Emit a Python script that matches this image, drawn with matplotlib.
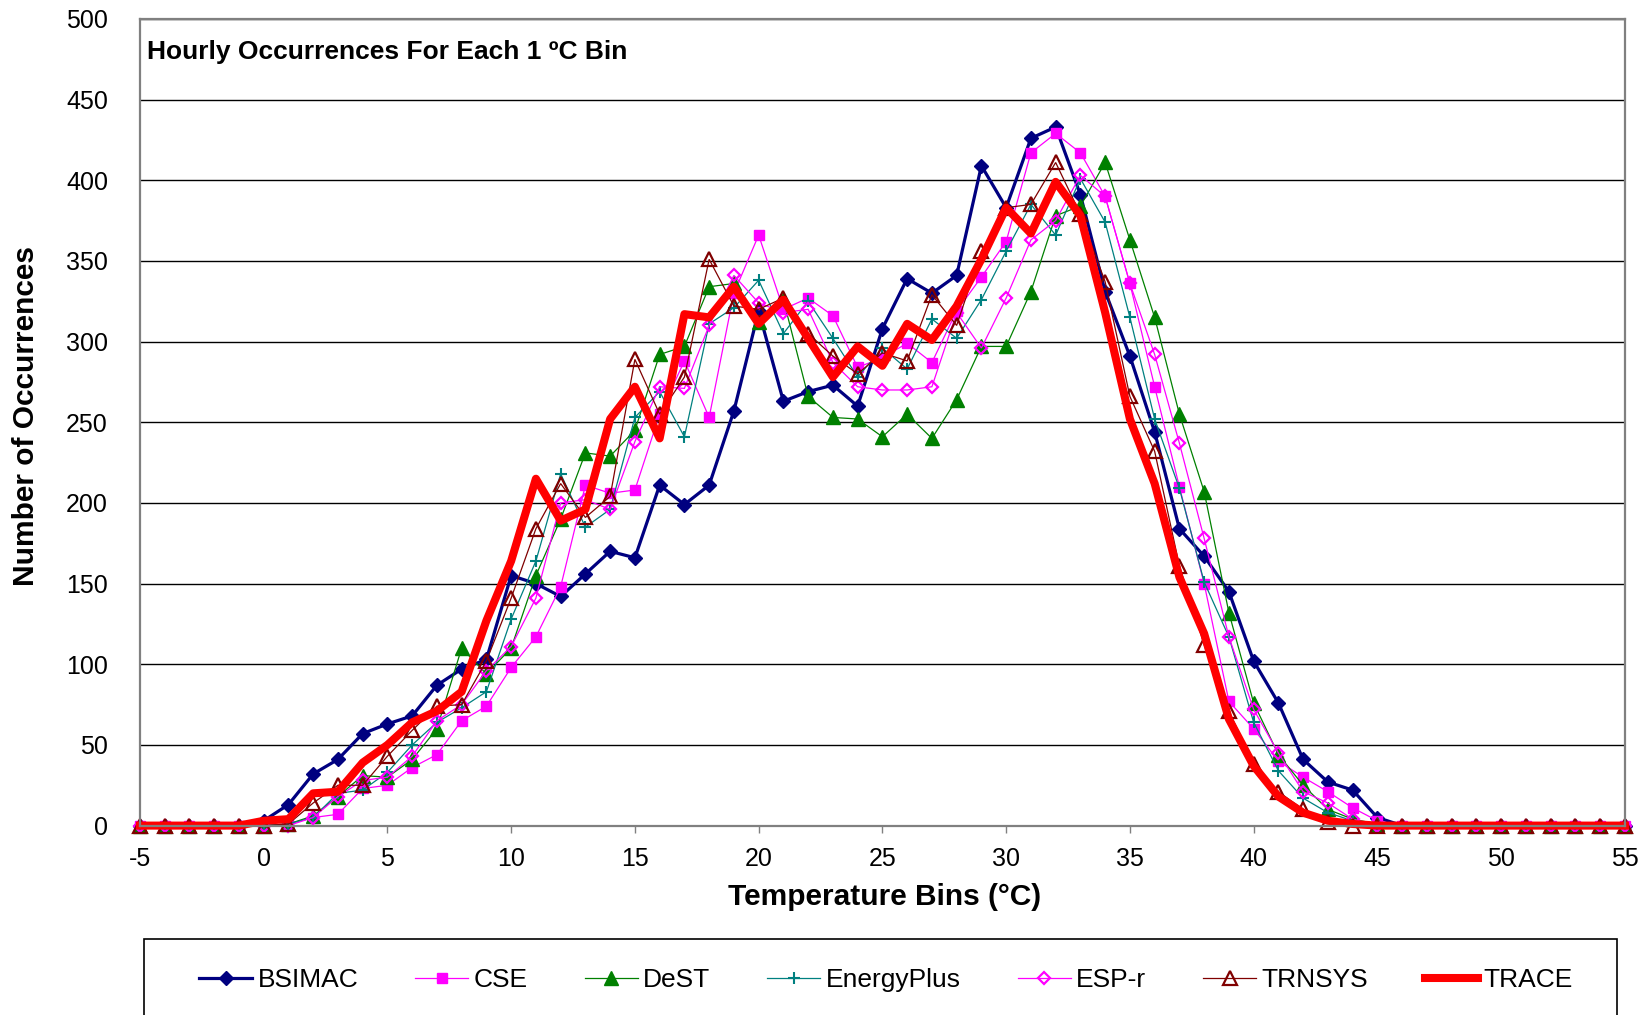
import matplotlib
matplotlib.use("Agg")
import matplotlib.pyplot as plt
from matplotlib.patches import Rectangle

plt.rcParams['font.family'] = ['Liberation Sans', 'DejaVu Sans']

# ---------------- data ----------------
temps = list(range(-5, 56))

bsimac = [0, 0, 0, 0, 0,
          3, 13, 32, 41, 57,
          63, 68, 87, 97, 103,
          155, 150, 142, 156, 170,
          166, 211, 199, 211, 257,
          319, 263, 269, 273, 260,
          308, 339, 330, 341, 409,
          383, 426, 433, 391, 331,
          291, 244, 184, 167, 145,
          102, 76, 41, 27, 22,
          5, 0, 0, 0, 0,
          0, 0, 0, 0, 0,
          0]

cse = [0, 0, 0, 0, 0,
       0, 1, 5, 7, 23,
       25, 36, 44, 65, 74,
       98, 117, 148, 211, 206,
       208, 255, 288, 253, 330,
       366, 320, 327, 316, 284,
       290, 299, 287, 319, 340,
       362, 417, 429, 417, 390,
       336, 272, 210, 150, 77,
       60, 40, 30, 21, 11,
       3, 0, 0, 0, 0,
       0, 0, 0, 0, 0,
       0]

dest = [0, 0, 0, 0, 0,
        0, 1, 6, 18, 31,
        30, 41, 60, 110, 94,
        110, 155, 190, 231, 229,
        245, 292, 297, 334, 336,
        312, 326, 266, 253, 252,
        241, 255, 240, 264, 297,
        297, 331, 378, 384, 411,
        363, 315, 255, 207, 132,
        76, 44, 25, 10, 4,
        1, 0, 0, 0, 0,
        0, 0, 0, 0, 0,
        0]

energyplus = [0, 0, 0, 0, 0,
              0, 1, 5, 20, 22,
              33, 50, 64, 73, 83,
              128, 164, 218, 185, 196,
              253, 269, 241, 311, 321,
              338, 305, 325, 302, 278,
              296, 283, 314, 302, 326,
              356, 385, 366, 401, 374,
              315, 252, 209, 151, 117,
              64, 34, 17, 8, 3,
              0, 0, 0, 0, 0,
              0, 0, 0, 0, 0,
              0]

espr = [0, 0, 0, 0, 0,
        0, 0, 5, 18, 28,
        30, 43, 65, 75, 96,
        111, 141, 200, 202, 196,
        238, 272, 271, 310, 341,
        324, 318, 320, 287, 272,
        270, 270, 272, 318, 296,
        327, 363, 375, 403, 390,
        336, 292, 237, 178, 117,
        72, 45, 21, 14, 4,
        0, 0, 0, 0, 0,
        0, 0, 0, 0, 0,
        0]

trnsys = [0, 0, 0, 0, 0,
          0, 1, 14, 25, 25,
          43, 59, 74, 75, 102,
          141, 184, 212, 191, 204,
          289, 255, 278, 351, 322,
          320, 327, 305, 291, 280,
          293, 288, 329, 310, 356,
          383, 385, 411, 379, 337,
          266, 232, 161, 112, 71,
          38, 21, 10, 2, 0,
          0, 0, 0, 0, 0,
          0, 0, 0, 0, 0,
          0]

trace = [0, 0, 0, 0, 0,
         3, 4, 20, 21, 39,
         50, 64, 71, 83, 127,
         164, 215, 189, 196, 252,
         272, 240, 317, 315, 334,
         311, 326, 302, 278, 297,
         285, 311, 301, 322, 351,
         383, 367, 399, 378, 318,
         252, 212, 154, 119, 66,
         37, 18, 8, 3, 1,
         0, 0, 0, 0, 0,
         0, 0, 0, 0, 0,
         0]

series_names = ["BSIMAC", "CSE", "DeST", "EnergyPlus", "ESP-r", "TRNSYS", "TRACE"]
series_values = [bsimac, cse, dest, energyplus, espr, trnsys, trace]

x_ticks = list(range(-5, 56, 5))
y_ticks = list(range(0, 501, 50))

# ---------------- styles ----------------
styles = {
    "BSIMAC":     dict(color="#000080", lw=2.3, marker="D", ms=7.5, mfc="#000080", mec="#000080", mew=1),
    "CSE":        dict(color="#FF00FF", lw=0.9, marker="s", ms=7, mfc="#FF00FF", mec="#FF00FF", mew=1),
    "DeST":       dict(color="#008000", lw=0.9, marker="^", ms=10, mfc="#008000", mec="#008000", mew=1),
    "EnergyPlus": dict(color="#008080", lw=0.9, marker="+", ms=8.5, mfc="#008080", mec="#008080", mew=1.5),
    "ESP-r":      dict(color="#FF00FF", lw=0.9, marker="D", ms=6.5, mfc="none", mec="#FF00FF", mew=1.6),
    "TRNSYS":     dict(color="#800000", lw=0.9, marker="^", ms=10, mfc="none", mec="#800000", mew=1.6),
    "TRACE":      dict(color="#FF0000", lw=5.8, marker=None),
}

W, H = 1649, 1015
fig = plt.figure(figsize=(W / 100, H / 100), dpi=100)
ax_left, ax_right = 139.9 / W, 1624.9 / W
ax_bottom, ax_top = 1 - 825.6 / H, 1 - 18.9 / H
ax = fig.add_axes([ax_left, ax_bottom, ax_right - ax_left, ax_top - ax_bottom])

handles = []
for name, vals in zip(series_names, series_values):
    st = styles[name]
    kw = dict(color=st["color"], lw=st["lw"], clip_on=False,
              solid_joinstyle="miter" if name != "TRACE" else "round")
    if st["marker"]:
        kw.update(marker=st["marker"], markersize=st["ms"], markerfacecolor=st["mfc"],
                  markeredgecolor=st["mec"], markeredgewidth=st["mew"])
    h, = ax.plot(temps, vals, label=name, **kw)
    handles.append(h)

ax.set_xlim(-5, 55)
ax.set_ylim(0, 500)
ax.set_xticks(x_ticks)
ax.set_xticklabels([str(v) for v in x_ticks])
ax.set_yticks(y_ticks)
ax.set_yticklabels([str(v) for v in y_ticks])
ax.tick_params(axis='y', length=0, pad=23, labelsize=18)
ax.tick_params(axis='x', length=5, width=1, color='#808080', direction='out', pad=10.5, labelsize=18)

ax.yaxis.grid(True, color='#000000', lw=1.0)
ax.set_axisbelow(True)
for side in ['left', 'right', 'top', 'bottom']:
    ax.spines[side].set_color('#808080')
    ax.spines[side].set_linewidth(1.6)

fig.text(147 / W, 1 - 51.5 / H, "Hourly Occurrences For Each 1 ºC Bin",
         fontsize=19, fontweight='bold', ha='left', va='center')
fig.text(884.5 / W, 1 - 897 / H, "Temperature Bins (°C)",
         fontsize=21.5, fontweight='bold', ha='center', va='center')
fig.text(26 / W, 1 - 415.5 / H, "Number of Occurrences", rotation=90,
         fontsize=21.5, fontweight='bold', ha='center', va='center')

# legend frame (runs off the bottom of the figure)
fig.patches.append(Rectangle((144 / W, -0.05), (1617 - 144) / W, 0.05 + (1 - 939 / H),
                             transform=fig.transFigure, fill=False, edgecolor='#000000', lw=1.2))
fig.legend(handles, series_names, loc='center', bbox_to_anchor=(886 / W, 1 - 980 / H),
           ncol=7, frameon=False, fontsize=19, handlelength=2.0, handletextpad=0.2,
           columnspacing=2.17, numpoints=1)

fig.savefig("out.png", dpi=100)
